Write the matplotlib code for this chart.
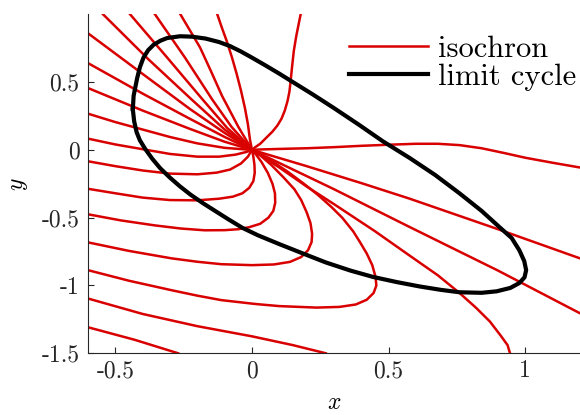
import matplotlib
matplotlib.use('Agg')
import matplotlib.pyplot as plt
import numpy as np

# isochrons and limit cycle (x, y)

# limit cycle, closed loop
cycle = [(-0.436, 0.30), (-0.433, 0.40), (-0.42, 0.53), (-0.41, 0.61), (-0.397, 0.68),
         (-0.38, 0.735), (-0.36, 0.775), (-0.335, 0.805), (-0.31, 0.825), (-0.263, 0.838),
         (-0.22, 0.835), (-0.17, 0.821), (-0.12, 0.795), (-0.08, 0.765), (-0.04, 0.725),
         (0.0, 0.68), (0.05, 0.622), (0.1, 0.562), (0.139, 0.513), (0.22, 0.412),
         (0.297, 0.312), (0.39, 0.187), (0.479, 0.063), (0.577, -0.06), (0.67, -0.185),
         (0.759, -0.32), (0.84, -0.45), (0.905, -0.569), (0.95, -0.65), (0.978, -0.74),
         (0.996, -0.82), (1.003, -0.887), (0.997, -0.94), (0.978, -0.982), (0.945, -1.018),
         (0.895, -1.043), (0.84, -1.054), (0.759, -1.05), (0.69, -1.032), (0.613, -1.007),
         (0.53, -0.975), (0.443, -0.937), (0.36, -0.89), (0.27, -0.83), (0.175, -0.755),
         (0.1, -0.695), (0.022, -0.63), (-0.035, -0.575), (-0.088, -0.51), (-0.135, -0.45),
         (-0.178, -0.395), (-0.225, -0.33), (-0.263, -0.27), (-0.3, -0.205), (-0.336, -0.135),
         (-0.365, -0.065), (-0.39, 0.005), (-0.41, 0.07), (-0.422, 0.13), (-0.431, 0.21),
         (-0.436, 0.30)]

# isochrons, going round the origin
iso_a = [(0, 0), (0.03, 0.003), (0.1, 0.007), (0.2, 0.012), (0.3, 0.02), (0.4, 0.03),
         (0.5, 0.038), (0.6, 0.045), (0.68, 0.045), (0.76, 0.035), (0.84, 0.012), (0.92, -0.022),
         (1.0, -0.058), (1.1, -0.095), (1.2, -0.13)]
iso_b = [(0, 0), (0.012, 0.02), (0.03, 0.045), (0.054, 0.093), (0.075, 0.135), (0.093, 0.18),
         (0.108, 0.23), (0.12, 0.29), (0.13, 0.36), (0.137, 0.43), (0.142, 0.52), (0.147, 0.62),
         (0.153, 0.73), (0.162, 0.84), (0.17, 0.92), (0.178, 1.0)]
iso_t5 = [(0, 0), (-0.007, 0.07), (-0.015, 0.19), (-0.026, 0.31), (-0.04, 0.435), (-0.056, 0.56),
          (-0.073, 0.68), (-0.092, 0.80), (-0.11, 0.90), (-0.127, 1.0)]
iso_t4 = [(0, 0), (-0.05, 0.17), (-0.11, 0.40), (-0.15, 0.58), (-0.19, 0.755), (-0.262, 1.0)]
iso_t3 = [(0, 0), (-0.075, 0.17), (-0.145, 0.37), (-0.245, 0.68), (-0.355, 1.0)]
iso_t2 = [(0, 0), (-0.09, 0.16), (-0.18, 0.37), (-0.31, 0.68), (-0.446, 1.0)]
iso_t1 = [(0, 0), (-0.10, 0.15), (-0.22, 0.37), (-0.38, 0.67), (-0.545, 1.0)]
iso_l1 = [(-0.6, 0.86), (-0.4, 0.56), (-0.226, 0.30), (-0.1, 0.125), (0, 0)]
iso_l2 = [(-0.6, 0.64), (-0.4, 0.415), (-0.226, 0.228), (-0.1, 0.095), (0, 0)]
iso_l3 = [(-0.6, 0.456), (-0.4, 0.29), (-0.226, 0.154), (-0.1, 0.06), (0, 0)]
iso_l4 = [(-0.6, 0.267), (-0.5, 0.205), (-0.4, 0.15), (-0.3, 0.095), (-0.2, 0.048),
          (-0.1, 0.015), (0, 0)]
iso_l5 = [(-0.6, 0.083), (-0.5, 0.04), (-0.4, 0.005), (-0.3, -0.03), (-0.2, -0.05),
          (-0.12, -0.05), (-0.06, -0.035), (-0.02, -0.015), (0, 0)]
iso_l6 = [(-0.6, -0.084), (-0.5, -0.12), (-0.4, -0.152), (-0.3, -0.175), (-0.2, -0.18),
          (-0.13, -0.168), (-0.08, -0.145), (-0.04, -0.10), (-0.015, -0.05), (0, 0)]
iso_c1 = [(-0.6, -0.287), (-0.5, -0.32), (-0.4, -0.352), (-0.3, -0.37), (-0.2, -0.372),
          (-0.12, -0.36), (-0.07, -0.345), (-0.035, -0.32), (-0.01, -0.28), (0.005, -0.23),
          (0.01, -0.17), (0.009, -0.11), (0.005, -0.05), (0, 0)]
iso_c2 = [(-0.6, -0.475), (-0.48, -0.52), (-0.355, -0.557), (-0.26, -0.58), (-0.173, -0.593),
          (-0.1, -0.592), (-0.05, -0.585), (-0.01, -0.57), (0.03, -0.545), (0.06, -0.50),
          (0.078, -0.45), (0.085, -0.39), (0.084, -0.32), (0.075, -0.25), (0.058, -0.17),
          (0.035, -0.09), (0.015, -0.035), (0, 0)]
iso_c3 = [(-0.6, -0.682), (-0.45, -0.745), (-0.294, -0.80), (-0.2, -0.825), (-0.112, -0.843),
          (0.0, -0.85), (0.08, -0.845), (0.139, -0.826), (0.18, -0.79), (0.205, -0.74),
          (0.218, -0.68), (0.22, -0.62), (0.214, -0.54), (0.2, -0.46), (0.18, -0.37),
          (0.155, -0.29), (0.114, -0.2), (0.07, -0.11), (0.03, -0.04), (0, 0)]
iso_c4 = [(-0.6, -0.887), (-0.45, -0.965), (-0.294, -1.035), (-0.2, -1.075), (-0.112, -1.108),
          (0.015, -1.137), (0.1, -1.152), (0.236, -1.163), (0.32, -1.158), (0.38, -1.14),
          (0.42, -1.105), (0.445, -1.055), (0.455, -1.0), (0.452, -0.937), (0.44, -0.85),
          (0.42, -0.765), (0.395, -0.68), (0.37, -0.60), (0.33, -0.50), (0.29, -0.42),
          (0.24, -0.33), (0.19, -0.25), (0.13, -0.16), (0.07, -0.08), (0.03, -0.03), (0, 0)]
iso_c5 = [(-0.6, -1.096), (-0.4, -1.21), (-0.2, -1.30), (0.0, -1.375), (0.15, -1.44), (0.27, -1.5)]
iso_c6 = [(-0.6, -1.308), (-0.43, -1.40), (-0.27, -1.5)]
iso_d1 = [(0, 0), (0.1, -0.13), (0.2, -0.27), (0.3, -0.40), (0.45, -0.60), (0.577, -0.78),
          (0.68, -0.925), (0.759, -1.055), (0.82, -1.165), (0.87, -1.265), (0.91, -1.37),
          (0.935, -1.44), (0.944, -1.5)]
iso_d2 = [(0, 0), (0.15, -0.145), (0.3, -0.29), (0.577, -0.569), (0.9, -0.89), (1.2, -1.205)]
iso_d3 = [(0, 0), (0.2, -0.12), (0.4, -0.245), (0.577, -0.36), (0.9, -0.585), (1.2, -0.80)]

isochrons = [iso_a, iso_b, iso_t5, iso_t4, iso_t3, iso_t2, iso_t1, iso_l1, iso_l2, iso_l3,
             iso_l4, iso_l5, iso_l6, iso_c1, iso_c2, iso_c3, iso_c4, iso_c5, iso_c6,
             iso_d1, iso_d2, iso_d3]

xticks = [-0.5, 0, 0.5, 1]
xtick_labels = ['-0.5', '0', '0.5', '1']
yticks = [-1.5, -1, -0.5, 0, 0.5]
ytick_labels = ['-1.5', '-1', '-0.5', '0', '0.5']

plt.rcParams['font.family'] = 'cmr10'
plt.rcParams['mathtext.fontset'] = 'cm'
plt.rcParams['axes.unicode_minus'] = False

red = '#d90000'
grey = '#262626'

fig = plt.figure(figsize=(5.8, 4.15), dpi=100)
ax = fig.add_axes([0.1517, 0.1487, 0.8483, 0.8169])

for i, c in enumerate(isochrons):
    xy = np.array(c)
    ax.plot(xy[:, 0], xy[:, 1], color=red, lw=1.8, solid_joinstyle='round',
            label='isochron' if i == 0 else None)
cyc = np.array(cycle)
ax.plot(cyc[:, 0], cyc[:, 1], color='black', lw=3.0, solid_joinstyle='round',
        label='limit cycle')

ax.set_xlim(-0.6, 1.2)
ax.set_ylim(-1.5, 1.0)
ax.set_xticks(xticks)
ax.set_xticklabels(xtick_labels)
ax.set_yticks(yticks)
ax.set_yticklabels(ytick_labels)
ax.spines['top'].set_visible(False)
ax.spines['right'].set_visible(False)
for s in ['left', 'bottom']:
    ax.spines[s].set_color(grey)
    ax.spines[s].set_linewidth(0.8)
ax.tick_params(direction='in', length=4, width=0.8, colors=grey, labelsize=17)
ax.tick_params(axis='x', pad=5)
ax.tick_params(axis='y', pad=6)
ax.set_xlabel('$x$', fontsize=17, labelpad=7)
ax.set_ylabel('$y$', fontsize=17, labelpad=8)

ax.legend(loc='upper left', bbox_to_anchor=(0.5305, 0.937), frameon=False, fontsize=22,
          handlelength=2.6, handletextpad=0.3, labelspacing=0.0, borderpad=0, borderaxespad=0)

fig.savefig('out.png', dpi=100)
